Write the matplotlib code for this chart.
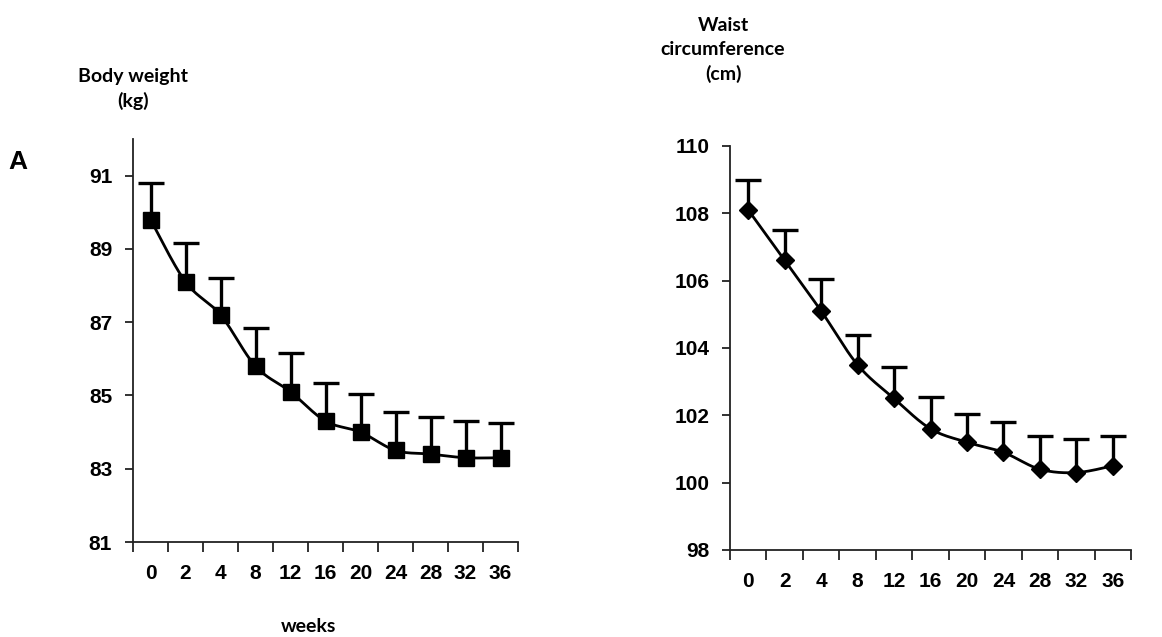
import numpy as np
import matplotlib
matplotlib.use("Agg")
import matplotlib.pyplot as plt
from matplotlib.ticker import FixedLocator

weeks = ["0", "2", "4", "8", "12", "16", "20", "24", "28", "32", "36"]
body_weight = [89.8, 88.1, 87.2, 85.8, 85.1, 84.3, 84.0, 83.5, 83.4, 83.3, 83.3]
body_weight_err = [1.0, 1.05, 1.0, 1.05, 1.05, 1.05, 1.05, 1.05, 1.0, 1.0, 0.95]
waist = [108.1, 106.6, 105.1, 103.5, 102.5, 101.6, 101.2, 100.9, 100.4, 100.3, 100.5]
waist_err = [0.9, 0.9, 0.95, 0.9, 0.95, 0.95, 0.85, 0.9, 1.0, 1.0, 0.9]

TICK_FONT = ['Liberation Sans Narrow', 'Liberation Sans', 'DejaVu Sans']
TITLE_FONT = ['Lato', 'DejaVu Sans']


def smooth(xs, ys, n=30):
    xs = np.asarray(xs, float)
    ys = np.asarray(ys, float)
    P = np.column_stack([xs, ys])
    out = [P[0]]
    for i in range(len(P) - 1):
        p0 = P[i - 1] if i > 0 else P[i]
        p1 = P[i]
        p2 = P[i + 1]
        p3 = P[i + 2] if i + 2 < len(P) else P[i + 1]
        c1 = p1 + (p2 - p0) / 6.0
        c2 = p2 - (p3 - p1) / 6.0
        t = np.linspace(0, 1, n)[1:, None]
        seg = ((1 - t) ** 3) * p1 + 3 * ((1 - t) ** 2) * t * c1 + 3 * (1 - t) * t ** 2 * c2 + t ** 3 * p2
        out.extend(seg)
    out = np.array(out)
    return out[:, 0], out[:, 1]


fig = plt.figure(figsize=(11.62, 6.37), dpi=100)


def panel(rect, vals, errs, ylim, yticks, marker, msize):
    ax = fig.add_axes(rect)
    x = np.arange(len(weeks))
    sx, sy = smooth(x, vals)
    ax.plot(sx, sy, color='black', lw=2, zorder=2)
    eb = ax.errorbar(x, vals, yerr=[np.zeros(len(errs)), errs], fmt='none', ecolor='black',
                     elinewidth=2.4, capsize=9.5, capthick=2.4, zorder=1)
    caps = eb[1]
    if len(caps) == 2:
        caps[0].set_visible(False)
    ax.plot(x, vals, linestyle='none', marker=marker, color='black', markersize=msize, zorder=3)
    ax.set_xlim(-0.5, len(weeks) - 0.5)
    ax.set_ylim(*ylim)
    for s in ['top', 'right']:
        ax.spines[s].set_visible(False)
    for s in ['left', 'bottom']:
        ax.spines[s].set_linewidth(1.3)
        ax.spines[s].set_color('#222222')
    ax.set_xticks(x)
    ax.set_xticklabels(weeks)
    ax.xaxis.set_minor_locator(FixedLocator(np.arange(len(weeks) + 1) - 0.5))
    ax.tick_params(axis='x', which='major', length=0, pad=16)
    ax.tick_params(axis='x', which='minor', length=7, width=1.3, direction='out', color='#222222')
    ax.set_yticks(yticks)
    ax.tick_params(axis='y', length=6, width=1.3, pad=9, color='#222222')
    for lab in ax.get_xticklabels() + ax.get_yticklabels():
        lab.set_fontfamily(TICK_FONT)
        lab.set_fontweight('bold')
        lab.set_fontsize(15)
    return ax


ax1 = panel([133 / 1162, 1 - 542 / 637, (518 - 133) / 1162, (542 - 139) / 637],
            body_weight, body_weight_err, (81, 92), [81, 83, 85, 87, 89, 91], 's', 12)
ax2 = panel([730 / 1162, 1 - 550 / 637, (1131 - 730) / 1162, (550 - 146) / 637],
            waist, waist_err, (98, 110), [98, 100, 102, 104, 106, 108, 110], 'D', 9)

fig.text(133 / 1162, 1 - 89 / 637, "Body weight\n(kg)", ha='center', va='center',
         fontsize=14, fontweight='bold', family=TITLE_FONT, linespacing=1.45)
fig.text(723 / 1162, 1 - 50 / 637, "Waist\ncircumference\n(cm)", ha='center', va='center',
         fontsize=14, fontweight='bold', family=TITLE_FONT, linespacing=1.45)
fig.text(18 / 1162, 1 - 162 / 637, "A", ha='center', va='center', fontsize=19,
         fontweight='bold', family=['Liberation Sans', 'DejaVu Sans'])
fig.text(309 / 1162, 1 - 627 / 637, "weeks", ha='center', va='center', fontsize=14,
         fontweight='bold', family=TITLE_FONT)

fig.savefig("out.png", dpi=100, facecolor='white')
